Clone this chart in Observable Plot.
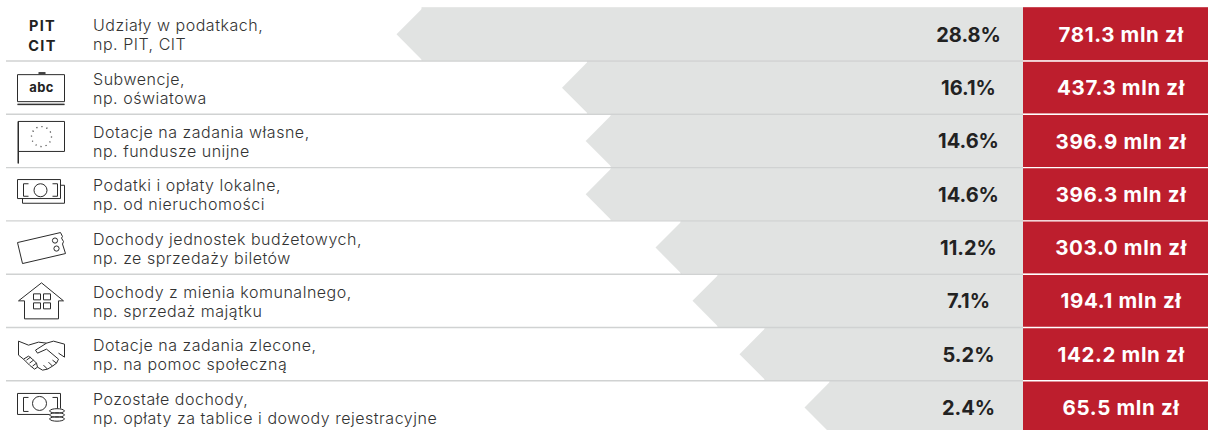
<!DOCTYPE html>
<html><head><meta charset="utf-8">
<script src="https://cdn.jsdelivr.net/npm/d3@7"></script>
<script src="https://cdn.jsdelivr.net/npm/@observablehq/plot@0.6"></script>
<style>html,body{margin:0;padding:0;background:#fff;overflow:hidden}svg{display:block}
.lab text{letter-spacing:.52px}.amt text{letter-spacing:.65px}.pit text{letter-spacing:1.3px}.abc text{letter-spacing:.4px}</style>
</head><body><div id="chart"></div>
<script>
const labels = [
  "Udziały w podatkach,\nnp. PIT, CIT",
  "Subwencje,\nnp. oświatowa",
  "Dotacje na zadania własne,\nnp. fundusze unijne",
  "Podatki i opłaty lokalne,\nnp. od nieruchomości",
  "Dochody jednostek budżetowych,\nnp. ze sprzedaży biletów",
  "Dochody z mienia komunalnego,\nnp. sprzedaż majątku",
  "Dotacje na zadania zlecone,\nnp. na pomoc społeczną",
  "Pozostałe dochody,\nnp. opłaty za tablice i dowody rejestracyjne"
];
const shares = [28.8, 16.1, 14.6, 14.6, 11.2, 7.1, 5.2, 2.4];
const amounts = [781.3, 437.3, 396.9, 396.3, 303.0, 194.1, 142.2, 65.5];
const rows = labels.map((label, i) => ({label, i, share: shares[i], amount: amounts[i]}));

// The bars in the reference are not proportional: a piecewise transform reproduces them.
const xDomain = [-12, 0, 2.4, 5.2, 7.1, 11.2, 14.6, 16.1, 28.8, 50];
const xRange = [1208, 1023, 829.5, 764.5, 717.5, 680.5, 610.7, 587, 421.5, 6];
const RED_END = -12, LEFT_END = 50;
const piecewiseX = d3.scaleLinear().domain(xDomain).range(xRange);

const notch = {draw(c){ c.moveTo(1,-26.65); c.lineTo(-25.5,0); c.lineTo(1,26.65); c.closePath(); }};
function circle(c,x,y,r){ c.moveTo(x+r,y); c.arc(x,y,r,0,Math.PI*2); }
function note(c){
  c.moveTo(-24,-14.7); c.lineTo(19,-14.7); c.lineTo(19,4.3); c.lineTo(-24,4.3); c.closePath();
  c.moveTo(19,-9); c.lineTo(23,-9); c.lineTo(23,9); c.lineTo(-19,9); c.lineTo(-19,4.3);
  c.moveTo(-13,-10.5); c.lineTo(-18,-10.5); c.lineTo(-18,2); c.lineTo(-13,2);
  c.moveTo(11,-10.5); c.lineTo(16,-10.5); c.lineTo(16,2); c.lineTo(11,2);
  circle(c,-1,-4,6.5);
}
const icons = [
  null,
  {draw(c){
    c.moveTo(-24,-13); c.lineTo(23,-13); c.lineTo(23,14); c.lineTo(-24,14); c.closePath();
    c.moveTo(-24,16.5); c.lineTo(23,16.5);
    c.moveTo(-24,17); c.lineTo(23,17);
    c.moveTo(-3,-14); c.lineTo(4,-14); c.moveTo(-3,-15); c.lineTo(4,-15);
  }},
  {draw(c){
    c.moveTo(-23.5,22.5); c.lineTo(-23.5,-19.5); c.lineTo(23,-19.5); c.lineTo(23,10.5); c.lineTo(-23.5,10.5);
    c.moveTo(-23,22.5); c.lineTo(-23,-19);
  }},
  {draw: note},
  {draw(c){
    c.moveTo(-24,-5); c.lineTo(19,-15); c.lineTo(21,-11); c.lineTo(20,-9.5); c.lineTo(22,-6); c.lineTo(21,-3.5); c.lineTo(24,6);
    c.lineTo(-19,16); c.closePath();
    circle(c,13.5,-7,2.6); circle(c,15,1,2.6);
  }},
  {draw(c){
    c.moveTo(-17,0); c.lineTo(-23,0); c.lineTo(0,-18); c.lineTo(22,0); c.lineTo(17,0);
    c.lineTo(17,18); c.lineTo(-17,18); c.closePath();
    for (const [x,y] of [[-8,-7],[2,-7],[-8,2],[2,2]]) { c.moveTo(x,y); c.lineTo(x+7,y); c.lineTo(x+7,y+6); c.lineTo(x,y+6); c.closePath(); }
  }},
  {draw(c){
    c.moveTo(-23,-13); c.lineTo(-13,-9); c.lineTo(-3,-12); c.lineTo(5,-11); c.lineTo(12,-13); c.lineTo(23,-10); c.lineTo(23,3); c.lineTo(17,-1);
    c.moveTo(-23,-13); c.lineTo(-23,1); c.lineTo(-18,5);
    c.moveTo(5,-11); c.lineTo(-6,-4); c.lineTo(-4,-1); c.lineTo(5,-5); c.lineTo(17,5); c.lineTo(15,9); c.lineTo(11,6);
    c.moveTo(15,9); c.lineTo(11,12); c.lineTo(7,8); c.moveTo(11,12); c.lineTo(6,15); c.lineTo(2,11);
    c.moveTo(6,15); c.lineTo(1,16); c.lineTo(-4,13);
    c.moveTo(-18,5); c.lineTo(-13,2); c.lineTo(-9,5); c.lineTo(-5,9); c.lineTo(-4,13); c.lineTo(-7,15); c.lineTo(-12,11); c.lineTo(-18,5);
    c.moveTo(-15,6); c.lineTo(-11,3); c.moveTo(-12,9); c.lineTo(-8,6); c.moveTo(-9,12); c.lineTo(-5,9);
  }},
  {draw(c){
    c.moveTo(8,7); c.lineTo(-24,7); c.lineTo(-24,-14); c.lineTo(19,-14); c.lineTo(19,1);
    c.moveTo(-13,-10); c.lineTo(-18,-10); c.lineTo(-18,4); c.lineTo(-13,4);
    c.moveTo(11,-10); c.lineTo(16,-10); c.lineTo(16,1);
    circle(c,-2,-4,7);
    for (const y of [3.5,7.5,11.5]) { c.moveTo(8,y); c.bezierCurveTo(9,y-3,22,y-3,23,y); c.bezierCurveTo(22,y+3,9,y+3,8,y); }
  }}
];

const font = "Inter, 'Noto Sans', sans-serif";
const iconMarks = rows.filter(r => icons[r.i]).map(r => Plot.dot([r], {
  y: d => d.i + 0.5, frameAnchor: "left", dx: 41, symbol: icons[r.i], r: 5,
  fill: "none", stroke: "#2b2b2b", strokeWidth: 1
}));

const chart = Plot.plot({
  width: 1208, height: 430, margin: 0,
  style: {fontFamily: font, background: "#fff"},
  x: {axis: null, transform: piecewiseX, domain: [0, 1208], range: [0, 1208]},
  y: {axis: null, domain: [0, 8], range: [7.2, 433.6]},
  marks: [
    Plot.rect(rows, {x1: 0, x2: "share", y1: "i", y2: d => d.i + 1, fill: "#e1e3e2"}),
    Plot.dot(rows, {x: "share", y: d => d.i + 0.5, symbol: notch, r: 5, fill: "#e1e3e2"}),
    Plot.rect(rows, {x1: 0, x2: RED_END, y1: "i", y2: d => d.i + 1, fill: "#bd1e2d"}),
    Plot.ruleY(rows.slice(1), {y: "i", x1: LEFT_END, x2: 0, stroke: "#d0d2d2", strokeWidth: 1.4}),
    Plot.ruleY(rows.slice(1), {y: "i", x1: 0, x2: RED_END, stroke: "#fff", strokeWidth: 1.4}),
    ...iconMarks,
    Plot.dot(rows.filter(r => r.i === 2), {y: d => d.i + 0.5, frameAnchor: "left", dx: 41, dy: -4.4, r: 10, fill: "none", stroke: "#2b2b2b", strokeWidth: 1.3, strokeDasharray: "1 4.2"}),
    Plot.text(rows.filter(r => r.i === 0), {y: d => d.i + 0.5, text: () => "PIT\nCIT", frameAnchor: "left", textAnchor: "middle", dx: 42, dy: 0.5, fontSize: 14.5, fontWeight: 700, lineHeight: 1.32, fill: "#222", className: "pit"}),
    Plot.text(rows.filter(r => r.i === 1), {y: d => d.i + 0.5, text: () => "abc", frameAnchor: "left", textAnchor: "middle", dx: 41, dy: 0.5, fontSize: 13, fontWeight: 700, fill: "#222", className: "abc"}),
    Plot.text(rows, {y: d => d.i + 0.5, text: "label", frameAnchor: "left", textAnchor: "start", dx: 92.5, dy: 0.5, fontSize: 16, lineHeight: 1.19, fill: "#333", fontWeight: 300, className: "lab"}),
    Plot.text(rows, {y: d => d.i + 0.5, text: d => `${d.share.toFixed(1)}%`, frameAnchor: "left", textAnchor: "middle", dx: 968, dy: 1, fontSize: 20, fontWeight: 700, fill: "#222"}),
    Plot.text(rows, {y: d => d.i + 0.5, text: d => `${d.amount.toFixed(1)} mln zł`, frameAnchor: "left", textAnchor: "middle", dx: 1120.5, dy: 1, fontSize: 20.5, fontWeight: 700, fill: "#fff", className: "amt"})
  ]
});
document.getElementById("chart").append(chart);
</script></body></html>
